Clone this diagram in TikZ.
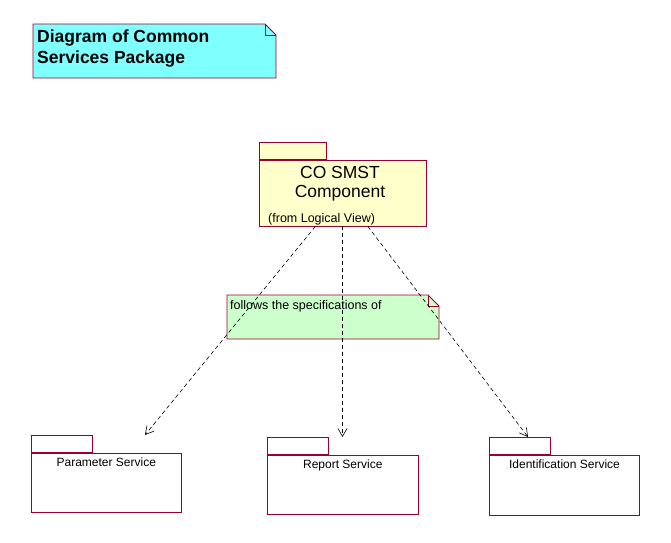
\documentclass[tikz,border=0pt]{standalone}
\usepackage{fontspec}
\setmainfont{Liberation Sans}
\usepackage{tikz}
\usetikzlibrary{arrows.meta}
\usetikzlibrary{positioning}

\definecolor{umlred}{RGB}{153,0,51}
\definecolor{titlecyan}{RGB}{128,255,255}
\definecolor{pkgyellow}{RGB}{255,255,204}
\definecolor{notegreen}{RGB}{204,255,204}

\begin{document}
\begin{tikzpicture}[x=1pt,y=-1pt,
  pkgbody/.style={draw=umlred, line width=0.8pt, inner sep=0pt},
  pkgtab/.style={draw=umlred, line width=0.8pt, inner sep=0pt, anchor=south west, minimum height=17pt},
  pkgname/.style={anchor=base, inner sep=0pt, font=\fontsize{12}{14}\selectfont},
  notebody/.style={draw=umlred, line width=0.8pt},
  dep/.style={dash pattern=on 4pt off 3pt, line width=0.6pt, -{Straight Barb[length=8pt,width=9pt]}}]
\useasboundingbox (0,0) rectangle (671,542);
\coordinate (paramend) at (145,435);
\coordinate (reportend) at (342.5,437);
\coordinate (identend) at (528,437);
% draws title note
\filldraw[notebody, fill=titlecyan] (33,24) -- (265,24) -- (276,35) -- (276,78) -- (33,78) -- cycle;
\draw[notebody] (265,24) -- (265,35) -- (276,35);
\node[anchor=north west, align=left, inner sep=0pt, font=\bfseries\fontsize{17.5}{21}\selectfont] (title) at (37,30) {Diagram of Common\\Services Package};
% draws component package
\node[pkgbody, fill=pkgyellow, minimum width=167pt, minimum height=66pt] (comp) at (342.5,193) {};
\node[pkgtab, fill=pkgyellow, minimum width=67pt] (comptab) at (comp.north west) {};
\node[anchor=north, align=center, inner sep=0pt, font=\fontsize{17.5}{19}\selectfont] (compname) at (340,166) {CO SMST\\Component};
\node[anchor=base west, inner sep=0pt, font=\fontsize{12.5}{14}\selectfont] (compfrom) at (268,222) {(from Logical View)};
% draws note
\filldraw[notebody, fill=notegreen] (227,295) -- (428,295) -- (439,306) -- (439,339) -- (227,339) -- cycle;
\draw[notebody] (428,295) -- (428,306) -- (439,306);
\node[anchor=base west, inner sep=0pt, font=\fontsize{12.5}{14}\selectfont] (spec) at (230,309) {follows the specifications of};
% draws service packages
\node[pkgbody, minimum width=150pt, minimum height=59pt] (param) at (106,482.5) {};
\node[pkgtab, minimum width=61pt] (paramtab) at (param.north west) {};
\node[pkgname] (paramname) at (106.3,466.7) {Parameter Service};
\node[pkgbody, minimum width=151pt, minimum height=59pt] (report) at (342.5,484.5) {};
\node[pkgtab, minimum width=61pt] (reporttab) at (report.north west) {};
\node[pkgname] (reportname) at (342.8,468.3) {Report Service};
\node[pkgbody, minimum width=150pt, minimum height=60pt] (ident) at (564,485) {};
\node[pkgtab, minimum width=61pt] (identtab) at (ident.north west) {};
\node[pkgname] (identname) at (564.5,468.3) {Identification Service};
% draws dependencies
\draw[dep] (comp) -- (paramend);
\draw[dep] (comp) -- (reportend);
\draw[dep] (comp) -- (identend);
\end{tikzpicture}
\end{document}
